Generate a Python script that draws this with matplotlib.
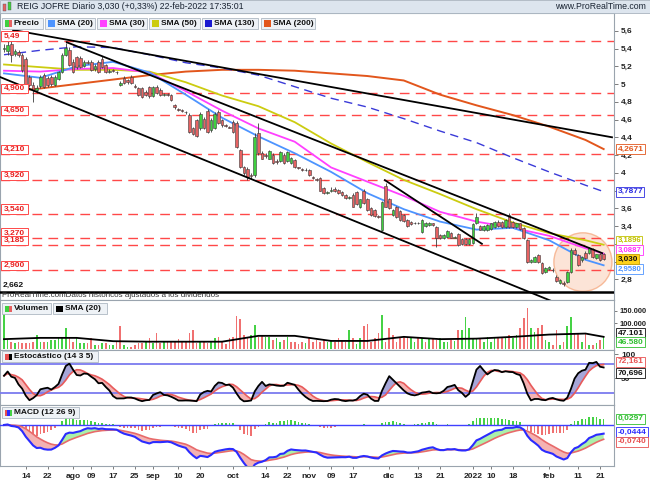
import matplotlib
matplotlib.use("Agg")
import matplotlib.pyplot as plt
from matplotlib.patches import Rectangle, Ellipse
from matplotlib.transforms import blended_transform_factory
import numpy as np
import pandas as pd

plt.rcParams['font.family'] = ['Liberation Sans', 'DejaVu Sans']

# sesiones diarias 06-jul-2021 .. 22-feb-2022
dates = pd.bdate_range('2021-07-06', '2022-02-22')

opens = [5.40, 5.37, 5.45, 5.34, 5.36, 5.33, 5.28, 5.08, 4.99, 4.93,
         4.98, 5.10, 5.07, 5.08, 4.99, 5.06, 5.13, 5.33, 5.38, 5.25,
         5.30, 5.29, 5.20, 5.25, 5.25, 5.17, 5.25, 5.28, 5.21, 5.14,
         5.16, 5.14, 4.99, 5.07, 5.04, 5.08, 4.98, 4.95, 4.95, 4.91,
         4.97, 4.86, 4.97, 4.93, 4.88, 4.89, 4.88, 4.76, 4.72, 4.71,
         4.69, 4.65, 4.50, 4.59, 4.50, 4.61, 4.70, 4.48, 4.50, 4.68,
         4.59, 4.54, 4.52, 4.57, 4.56, 4.26, 4.06, 4.04, 3.97, 3.97,
         4.45, 4.22, 4.20, 4.16, 4.20, 4.13, 4.13, 4.20, 4.13, 4.11,
         4.14, 4.06, 4.04, 4.03, 4.03, 3.95, 3.93, 3.94, 3.83, 3.77,
         3.80, 3.82, 3.81, 3.78, 3.75, 3.72, 3.75, 3.78, 3.62, 3.80,
         3.70, 3.60, 3.58, 3.51, 3.36, 3.85, 3.70, 3.52, 3.62, 3.57,
         3.53, 3.47, 3.45, 3.43, 3.44, 3.33, 3.40, 3.41, 3.43, 3.39,
         3.30, 3.26, 3.28, 3.32, 3.27, 3.31, 3.25, 3.25, 3.20, 3.21,
         3.43, 3.40, 3.35, 3.35, 3.37, 3.39, 3.45, 3.45, 3.39, 3.52,
         3.45, 3.39, 3.43, 3.38, 3.24, 2.99, 3.00, 3.07, 2.98, 2.88,
         2.92, 2.91, 2.83, 2.76, 2.76, 2.77, 2.88, 3.13, 3.07, 3.02,
         3.10, 3.10, 3.14, 3.04, 3.08, 3.08]
highs = [5.45, 5.48, 5.50, 5.40, 5.38, 5.35, 5.30, 5.10, 5.02, 4.99,
         5.10, 5.12, 5.09, 5.10, 5.10, 5.15, 5.35, 5.46, 5.42, 5.28,
         5.31, 5.31, 5.27, 5.27, 5.27, 5.22, 5.27, 5.31, 5.23, 5.17,
         5.17, 5.15, 5.03, 5.09, 5.06, 5.10, 5.00, 4.97, 4.97, 4.93,
         4.98, 4.98, 4.99, 4.95, 4.90, 4.90, 4.89, 4.78, 4.73, 4.72,
         4.70, 4.67, 4.52, 4.61, 4.68, 4.63, 4.72, 4.62, 4.68, 4.71,
         4.61, 4.55, 4.53, 4.60, 4.58, 4.27, 4.08, 4.06, 4.00, 4.45,
         4.56, 4.24, 4.22, 4.26, 4.22, 4.15, 4.24, 4.22, 4.24, 4.18,
         4.15, 4.07, 4.05, 4.05, 4.04, 3.96, 3.94, 3.95, 3.84, 3.79,
         3.84, 3.84, 3.82, 3.79, 3.76, 3.74, 3.77, 3.80, 3.71, 3.82,
         3.72, 3.62, 3.59, 3.52, 3.68, 3.89, 3.72, 3.59, 3.63, 3.58,
         3.54, 3.48, 3.46, 3.45, 3.45, 3.48, 3.45, 3.45, 3.44, 3.40,
         3.31, 3.31, 3.35, 3.33, 3.29, 3.32, 3.26, 3.26, 3.26, 3.43,
         3.55, 3.41, 3.41, 3.42, 3.44, 3.46, 3.47, 3.46, 3.48, 3.55,
         3.46, 3.44, 3.44, 3.39, 3.25, 3.03, 3.06, 3.08, 2.99, 2.94,
         2.95, 2.93, 2.85, 2.80, 2.78, 2.89, 3.15, 3.15, 3.08, 3.06,
         3.12, 3.16, 3.15, 3.09, 3.10, 3.10]
lows = [5.36, 5.33, 5.25, 5.31, 5.30, 5.14, 4.98, 4.97, 4.80, 4.90,
        4.96, 4.95, 4.97, 4.98, 4.98, 5.04, 5.12, 5.31, 5.20, 5.12,
        5.17, 5.18, 5.19, 5.23, 5.15, 5.15, 5.12, 5.18, 5.12, 5.12,
        5.14, 5.11, 4.98, 5.00, 5.00, 5.00, 4.96, 4.87, 4.84, 4.86,
        4.84, 4.85, 4.89, 4.87, 4.87, 4.86, 4.81, 4.72, 4.70, 4.69,
        4.66, 4.45, 4.43, 4.40, 4.48, 4.49, 4.45, 4.46, 4.49, 4.55,
        4.52, 4.52, 4.50, 4.45, 4.28, 4.05, 3.98, 3.92, 3.93, 3.95,
        4.20, 4.15, 4.17, 4.15, 4.10, 4.10, 4.12, 4.10, 4.12, 4.10,
        4.05, 4.04, 4.02, 4.02, 3.96, 3.93, 3.91, 3.79, 3.76, 3.76,
        3.78, 3.78, 3.76, 3.74, 3.71, 3.71, 3.61, 3.64, 3.60, 3.65,
        3.57, 3.51, 3.50, 3.49, 3.34, 3.61, 3.59, 3.51, 3.49, 3.46,
        3.45, 3.39, 3.41, 3.42, 3.42, 3.32, 3.39, 3.40, 3.40, 3.16,
        3.25, 3.25, 3.27, 3.26, 3.26, 3.18, 3.19, 3.19, 3.19, 3.20,
        3.42, 3.35, 3.34, 3.34, 3.36, 3.38, 3.39, 3.38, 3.38, 3.38,
        3.38, 3.38, 3.36, 3.25, 2.98, 2.98, 2.99, 2.98, 2.86, 2.87,
        2.91, 2.88, 2.77, 2.75, 2.73, 2.76, 2.87, 3.07, 2.95, 3.00,
        3.03, 3.09, 3.04, 3.03, 3.01, 3.02]
closes = [5.41, 5.44, 5.33, 5.37, 5.33, 5.16, 5.00, 4.99, 4.93, 4.96,
          5.08, 4.97, 4.99, 5.00, 5.08, 5.13, 5.33, 5.41, 5.21, 5.13,
          5.19, 5.19, 5.25, 5.24, 5.16, 5.20, 5.13, 5.19, 5.13, 5.15,
          5.15, 5.13, 5.01, 5.01, 5.02, 5.01, 4.97, 4.88, 4.85, 4.88,
          4.86, 4.97, 4.90, 4.88, 4.89, 4.88, 4.82, 4.74, 4.71, 4.70,
          4.68, 4.46, 4.44, 4.42, 4.66, 4.50, 4.46, 4.60, 4.66, 4.56,
          4.54, 4.53, 4.51, 4.46, 4.29, 4.06, 4.00, 3.95, 3.96, 4.40,
          4.22, 4.16, 4.19, 4.25, 4.11, 4.12, 4.23, 4.11, 4.23, 4.17,
          4.06, 4.05, 4.03, 4.03, 3.97, 3.94, 3.92, 3.80, 3.77, 3.78,
          3.81, 3.79, 3.77, 3.75, 3.72, 3.73, 3.62, 3.65, 3.70, 3.66,
          3.58, 3.52, 3.51, 3.50, 3.67, 3.62, 3.60, 3.58, 3.50, 3.47,
          3.46, 3.40, 3.42, 3.44, 3.43, 3.47, 3.44, 3.44, 3.41, 3.27,
          3.27, 3.30, 3.34, 3.27, 3.28, 3.19, 3.20, 3.20, 3.25, 3.42,
          3.50, 3.36, 3.40, 3.41, 3.43, 3.45, 3.40, 3.39, 3.47, 3.39,
          3.39, 3.43, 3.37, 3.26, 2.99, 3.02, 3.05, 2.99, 2.87, 2.93,
          2.94, 2.90, 2.78, 2.79, 2.75, 2.88, 3.13, 3.08, 2.96, 3.05,
          3.04, 3.15, 3.05, 3.08, 3.02, 3.03]
volumes_k = [136, 35, 28, 22, 28, 22, 22, 22, 28, 54,
             28, 28, 28, 35, 35, 41, 41, 81, 41, 28,
             47, 22, 22, 22, 41, 15, 15, 22, 22, 15,
             15, 28, 90, 15, 9, 9, 15, 22, 22, 28,
             41, 22, 62, 22, 28, 28, 28, 28, 38, 28,
             28, 62, 75, 22, 28, 28, 22, 28, 41, 47,
             28, 20, 41, 47, 130, 117, 54, 47, 54, 94,
             47, 54, 47, 47, 35, 41, 28, 35, 47, 28,
             28, 18, 28, 22, 41, 28, 35, 28, 35, 28,
             35, 28, 41, 30, 28, 74, 41, 18, 41, 88,
             96, 28, 41, 61, 133, 28, 81, 54, 28, 41,
             47, 47, 41, 28, 41, 41, 28, 41, 41, 35,
             41, 28, 28, 35, 30, 74, 74, 125, 81, 41,
             41, 41, 28, 47, 28, 41, 47, 41, 47, 54,
             41, 54, 81, 123, 160, 81, 68, 81, 94, 35,
             28, 15, 74, 15, 28, 91, 126, 62, 62, 28,
             62, 15, 15, 22, 35, 46.58]

# medias (cada 10 sesiones)
sma_pos = [0, 10, 20, 30, 40, 50, 60, 70, 80, 90, 100, 110, 120, 130, 140, 150, 160, 165]
sma20 = [5.12, 5.07, 5.20, 5.25, 5.13, 4.88, 4.62, 4.41, 4.22, 4.01, 3.77, 3.59, 3.45, 3.36, 3.38, 3.24, 3.02, 2.958]
sma30 = [5.15, 5.14, 5.17, 5.18, 5.13, 4.92, 4.70, 4.50, 4.35, 4.06, 3.90, 3.74, 3.56, 3.45, 3.38, 3.29, 3.15, 3.0887]
sma50 = [5.22, 5.19, 5.16, 5.16, 5.14, 5.02, 4.87, 4.75, 4.57, 4.33, 4.12, 3.92, 3.76, 3.59, 3.44, 3.32, 3.24, 3.1896]
sma130 = [5.33, 5.38, 5.42, 5.41, 5.33, 5.24, 5.18, 5.10, 4.97, 4.84, 4.74, 4.61, 4.47, 4.34, 4.17, 4.01, 3.86, 3.7877]
sma200 = [4.91, 4.95, 5.00, 5.05, 5.10, 5.14, 5.16, 5.16, 5.15, 5.12, 5.09, 5.04, 4.88, 4.76, 4.65, 4.52, 4.37, 4.2671]
vol_sma_k = [38, 43, 43, 30, 28, 28, 28, 51, 51, 31, 31, 47, 38, 40, 47, 56, 60, 47.101]

levels = [5.49, 4.90, 4.65, 4.21, 3.92, 3.54, 3.27, 3.185, 2.90]
level_labels = ['5,49', '4,900', '4,650', '4,210', '3,920', '3,540', '3,270', '3,185', '2,900']
support = 2.662

# lineas de tendencia: (sesion, precio)
trend_long = ([2.5, 167.3], [5.608, 4.40])
trend_top = ([17.3, 164.6], [5.47, 3.095])
trend_low = ([-1.1, 160.0], [5.079, 2.40])
trend_short = ([104.8, 131.5], [3.917, 3.20])

stoch_last = [72.161, 70.696]
macd_last = [0.0297, -0.0444, -0.0740]

price_ticks = [5.6, 5.4, 5.2, 5.0, 4.8, 4.6, 4.4, 4.2, 4.0, 3.8, 3.6, 3.4, 3.2, 3.0, 2.8]
hidden_ticks = [3.8, 3.2, 3.0]   # tapados por las etiquetas de las medias

tick_days = ['2021-07-14', '2021-07-22', '2021-08-02', '2021-08-09', '2021-08-17', '2021-08-25',
             '2021-09-01', '2021-09-10', '2021-09-20', '2021-10-01', '2021-10-14', '2021-10-22',
             '2021-11-01', '2021-11-09', '2021-11-17', '2021-12-01', '2021-12-13', '2021-12-21',
             '2022-01-03', '2022-01-10', '2022-01-18', '2022-02-01', '2022-02-11', '2022-02-21']
tick_text = ['14', '22', 'ago', '09', '17', '25', 'sep', '10', '20', 'oct', '14', '22',
             'nov', '09', '17', 'dic', '13', '21', '2022', '10', '18', 'feb', '11', '21']

W, H = 650, 483
GREEN, RED = '#3fcf3f', '#e66262'
fig = plt.figure(figsize=(W / 100, H / 100), dpi=100)


def panel(top, bottom):
    ax = fig.add_axes([0, 1 - bottom / H, 614 / W, (bottom - top) / H])
    ax.set_xlim(-1.1, 167.85)
    for s in ax.spines.values():
        s.set_color('#9aa4ae')
        s.set_linewidth(0.8)
    ax.yaxis.tick_right()
    ax.tick_params(axis='y', direction='out', length=3, width=0.6, colors='#666',
                   labelsize=6, labelcolor='#222', pad=2)
    ax.tick_params(axis='x', bottom=False, labelbottom=False)
    return ax


def fmt(v):
    return ('%g' % v).replace('.', ',')


def value_box(ax, y, text, color, face='white', edge=None, dy=0, size=6):
    ax.annotate(text, xy=(1, y), xycoords=('axes fraction', 'data'), xytext=(2.5, dy),
                textcoords='offset points', ha='left', va='center', fontsize=size,
                fontweight='bold', color=color, annotation_clip=False, zorder=10,
                bbox=dict(boxstyle='square,pad=0.18', fc=face, ec=edge or color, lw=0.6))


def legend_box(x0, x1, y0, y1, label, colors):
    fig.patches.append(Rectangle((x0 / W, 1 - y1 / H), (x1 - x0) / W, (y1 - y0) / H,
                                 transform=fig.transFigure, fc='#eef2f6', ec='#aeb8c2',
                                 lw=0.6, zorder=20))
    sw = 7.0 / len(colors)
    for i, col in enumerate(colors):
        fig.patches.append(Rectangle(((x0 + 3 + i * sw) / W, 1 - (y1 - 2.5) / H), sw / W,
                                     (y1 - y0 - 5) / H, transform=fig.transFigure,
                                     fc=col, ec='none', zorder=21))
    fig.text((x0 + 12) / W, 1 - (y0 + y1) / 2 / H, label, fontsize=6, fontweight='bold',
             va='center', ha='left', color='#111', zorder=22)


x = np.arange(len(dates))
o, h, l, c = (np.array(v) for v in (opens, highs, lows, closes))
vol = np.array(volumes_k) * 1000

# barra de titulo
fig.patches.append(Rectangle((0, 1 - 13 / H), 1, 13 / H, transform=fig.transFigure,
                             fc='#dde5ee', ec='#a9b4bf', lw=0.6, zorder=20))
fig.patches.append(Rectangle((3 / W, 1 - 11 / H), 3 / W, 7 / H, transform=fig.transFigure,
                             fc=RED, ec='#555', lw=0.3, zorder=21))
fig.patches.append(Rectangle((8 / W, 1 - 10 / H), 3 / W, 8 / H, transform=fig.transFigure,
                             fc=GREEN, ec='#555', lw=0.3, zorder=21))
fig.text(17 / W, 1 - 6.5 / H, 'REIG JOFRE Diario 3,030 (+0,33%) 22-feb-2022 17:35:01',
         fontsize=6.3, va='center', color='#1a2433', zorder=22)
fig.text(646 / W, 1 - 6.5 / H, 'www.ProRealTime.com', fontsize=6.3, va='center',
         ha='right', color='#1a2433', zorder=22)

# ---- precio ----
ax_p = panel(13, 300)
ax_p.set_ylim(2.567, 5.80)
ax_p.set_yticks(price_ticks)
ax_p.set_yticklabels(['' if v in hidden_ticks else fmt(v) for v in price_ticks],
                     fontweight='bold')
tr = blended_transform_factory(ax_p.transAxes, ax_p.transData)

for lev, lab in zip(levels, level_labels):
    ax_p.axhline(lev, color='#ff4848', lw=1, dashes=(7, 4.5), zorder=2)
    ax_p.add_patch(Rectangle((0.0015, lev), 0.044, 0.105, transform=tr, fc='white',
                             ec='#ff4848', lw=0.7, zorder=8))
    ax_p.text(0.006, lev + 0.052, lab, transform=tr, va='center', ha='left', fontsize=6,
              fontweight='bold', color='#e82020', zorder=9)

ax_p.axhline(support, color='black', lw=1.8, zorder=3)
ax_p.text(0.004, support + 0.07, '2,662', transform=tr, va='center', ha='left',
          fontsize=6, fontweight='bold', color='#111', zorder=9)

ax_p.add_patch(Ellipse((159.3, 2.994), 16.0, 0.66, fc='#fbd3bd', alpha=0.6,
                       ec='#f39664', lw=1.0, zorder=1))

ax_p.plot(sma_pos, sma200, color='#e2561c', lw=1.4, zorder=3)
ax_p.plot(sma_pos, sma130, color='#3a3ad8', lw=1.0, dashes=(6, 4), zorder=3)
ax_p.plot(sma_pos, sma50, color='#cccc10', lw=1.3, zorder=3)
ax_p.plot(sma_pos, sma30, color='#ff40ff', lw=1.3, zorder=3)
ax_p.plot(sma_pos, sma20, color='#4d94ff', lw=1.3, zorder=3)

up = c >= o
ax_p.vlines(x, l, h, color='#3a3a3a', lw=0.6, zorder=4)
ax_p.bar(x, np.maximum(np.abs(c - o), 0.006), bottom=np.minimum(o, c), width=0.72,
         color=np.where(up, GREEN, RED), edgecolor='#3a3a3a', linewidth=0.4, zorder=5)

for xs, ys in (trend_long, trend_top, trend_low, trend_short):
    ax_p.plot(xs, ys, color='black', lw=1.3, zorder=6)

ax_p.text(0.003, 0.014, 'ProRealTime.comDatos historicos ajustados a los dividendos',
          transform=ax_p.transAxes, fontsize=5.8, va='center', ha='left', color='#333', zorder=9)

value_box(ax_p, sma200[-1], '4,2671', '#e2561c')
value_box(ax_p, sma130[-1], '3,7877', '#2d2de0')
value_box(ax_p, sma50[-1], '3,1896', '#c2c200', dy=3.0, size=5.6)
value_box(ax_p, sma30[-1], '3,0887', '#ff30ff', dy=2.6, size=5.6)
value_box(ax_p, sma20[-1], '2,9580', '#4d94ff', dy=-2.6, size=5.6)
value_box(ax_p, c[-1], '3,030', '#111', face='#ffd21a', edge='#c9a000', size=5.8)

legend_box(2, 43, 18, 29, 'Precio', [GREEN, RED])
legend_box(45, 95, 18, 29, 'SMA (20)', ['#4d94ff'])
legend_box(97, 147, 18, 29, 'SMA (30)', ['#ff40ff'])
legend_box(149, 200, 18, 29, 'SMA (50)', ['#cccc10'])
legend_box(202, 258, 18, 29, 'SMA (130)', ['#1a1ad0'])
legend_box(261, 315, 18, 29, 'SMA (200)', ['#e2561c'])

# ---- volumen ----
ax_v = panel(300, 350)
ax_v.set_ylim(-4700, 192000)
vup = np.r_[True, c[1:] >= c[:-1]]
ax_v.bar(x, vol, width=0.45, color=np.where(vup, '#45d245', '#f07070'), zorder=3)
ax_v.plot(sma_pos, np.array(vol_sma_k) * 1000, color='black', lw=1.3, zorder=4)
ax_v.set_yticks([150000, 100000])
ax_v.set_yticklabels(['150.000', '100.000'], fontweight='bold', fontsize=5.4)
ax_v.tick_params(axis='y', pad=1.2, length=2.5)
value_box(ax_v, vol_sma_k[-1] * 1000, '47.101', '#111', dy=2.5)
value_box(ax_v, vol[-1], '46.580', '#2fbf2f', dy=-3.8)
legend_box(2, 51, 303, 314, 'Volumen', [GREEN, RED])
legend_box(53, 107, 303, 314, 'SMA (20)', ['black'])

# ---- estocastico (14 3 5) ----
ax_s = panel(350, 405)
ax_s.set_ylim(-5.6, 109.4)
hs, ls, cs = pd.Series(h), pd.Series(l), pd.Series(c)
hh = hs.rolling(14, min_periods=1).max()
ll = ls.rolling(14, min_periods=1).min()
k = (100 * (cs - ll) / (hh - ll)).rolling(3, min_periods=1).mean()
d = k.rolling(5, min_periods=1).mean()
ax_s.fill_between(x, k, d, where=k >= d, interpolate=True, color='#a6a6d8', lw=0, zorder=2)
ax_s.fill_between(x, k, d, where=k < d, interpolate=True, color='#f4b2b2', lw=0, zorder=2)
ax_s.axhline(80, color='#7b7bef', lw=1.3, zorder=3)
ax_s.axhline(20, color='#7b7bef', lw=1.3, zorder=3)
ax_s.plot(x, d, color='#e85a5a', lw=1.2, zorder=4)
ax_s.plot(x, k, color='black', lw=1.3, zorder=5)
ax_s.set_yticks([100, 50])
ax_s.set_yticklabels(['100', '50'], fontweight='bold')
value_box(ax_s, stoch_last[0], '72,161', '#e85050', dy=4.5)
value_box(ax_s, stoch_last[1], '70,696', '#111', dy=-3.5)
legend_box(2, 98, 351, 362, 'Estocástico (14 3 5)', ['#e85050', 'black'])

# ---- MACD (12 26 9) ----
ax_m = panel(405, 466)
ax_m.set_ylim(-0.191, 0.093)
ema12 = cs.ewm(span=12, adjust=False).mean()
ema26 = cs.ewm(span=26, adjust=False).mean()
macd = ema12 - ema26
signal = macd.ewm(span=9, adjust=False).mean()
hist = macd - signal
ax_m.bar(x, hist, width=0.45, color=np.where(hist >= 0, '#45d245', '#f07070'), zorder=2)
ax_m.fill_between(x, macd, signal, where=macd >= signal, interpolate=True, color='#aaf0aa', lw=0, zorder=3)
ax_m.fill_between(x, macd, signal, where=macd < signal, interpolate=True, color='#f4b2b2', lw=0, zorder=3)
ax_m.axhline(0, color='#4040ff', lw=1.0, zorder=4)
ax_m.plot(x, signal, color='#e86a6a', lw=1.2, zorder=5)
ax_m.plot(x, macd, color='#2b2bff', lw=1.5, zorder=6)
ax_m.set_yticks([])
value_box(ax_m, macd_last[0], '0,0297', '#2fbf2f')
value_box(ax_m, macd_last[1], '-0,0444', '#2b2bff', dy=1.8)
value_box(ax_m, macd_last[2], '-0,0740', '#e85050', dy=-0.5)
legend_box(2, 79, 407, 418, 'MACD (12 26 9)', ['#e85050', '#2b2bff', '#45d245'])

tick_pos = dates.get_indexer(pd.to_datetime(tick_days))
ax_m.set_xticks(tick_pos)
ax_m.set_xticklabels(tick_text, fontsize=6, fontweight='bold', color='#222')
ax_m.tick_params(axis='x', bottom=True, labelbottom=True, length=2.5, width=0.6,
                 colors='#666', labelcolor='#222', pad=2.5)

fig.savefig('out.png', dpi=100, facecolor='white')
